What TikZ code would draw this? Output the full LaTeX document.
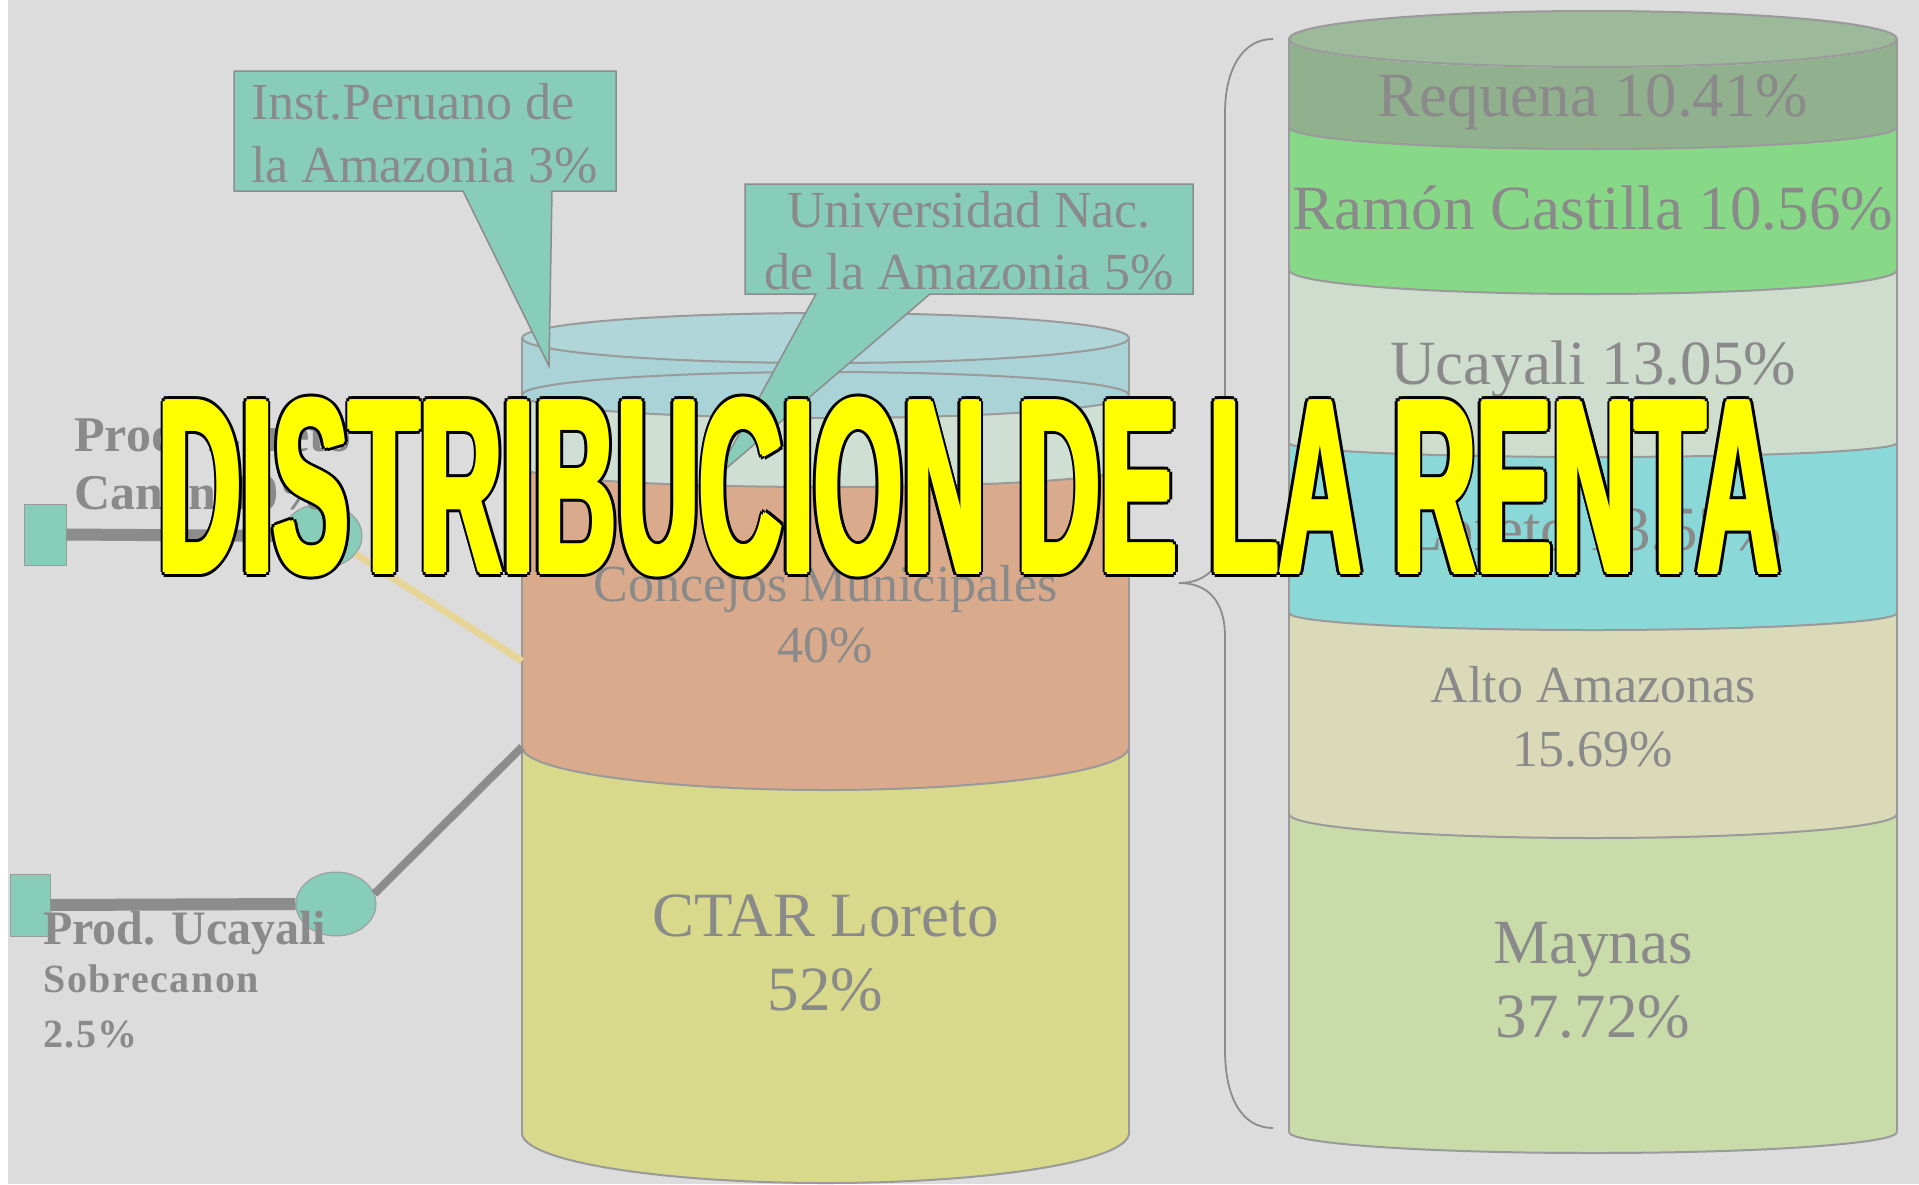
\documentclass[tikz,border=0pt]{standalone}
\usepackage{fontspec}
\setmainfont{Liberation Serif}
\newfontfamily\titlefont{Liberation Sans}
\usetikzlibrary{calc,shapes.geometric}
\definecolor{bgray}{HTML}{DCDCDC}
\definecolor{cyline}{HTML}{9A9A9A}
\definecolor{txtg}{HTML}{8A8A8A}
\definecolor{calteal}{HTML}{88CDB9}
\definecolor{mblue}{HTML}{A9D3D6}
\definecolor{mlight}{HTML}{CFDFD3}
\definecolor{morange}{HTML}{D9AA8C}
\definecolor{myellow}{HTML}{D8D98A}
\definecolor{rtop}{HTML}{9CB99A}
\definecolor{rreq}{HTML}{91B08E}
\definecolor{rram}{HTML}{87D887}
\definecolor{ruca}{HTML}{CEDDCE}
\definecolor{rlor}{HTML}{8AD8D8}
\definecolor{ralt}{HTML}{DBDAB8}
\definecolor{rmay}{HTML}{C9DBA8}
\definecolor{linegray}{HTML}{8C8C8C}
\definecolor{ylink}{HTML}{E6D597}
\definecolor{ttl}{HTML}{FFFF00}
% band of a cylinder: color, xL, rx, ytop, sagtop, ybot, sagbot
\newcommand\cylband[7]{\fill[#1] (#2,#4) arc[start angle=180,end angle=360,x radius=#3pt,y radius=#5pt] -- ++(0,{#6-#4}) arc[start angle=360,end angle=180,x radius=#3pt,y radius=#7pt] -- cycle;}
% front arc: xL, rx, y, sag
\newcommand\frontarc[4]{\draw[cyledge] (#1,#3) arc[start angle=180,end angle=360,x radius=#2pt,y radius=#4pt];}
\newcommand\titletxt{\resizebox{1620pt}{173pt}{\titlefont\bfseries DISTRIBUCION DE LA RENTA}}
\begin{document}
\begin{tikzpicture}[x=1pt,y=-1pt,
  cyledge/.style={draw=cyline,line width=2pt},
  lbl/.style={anchor=base,inner sep=0pt,text=txtg},
  big/.style={lbl,font=\fontsize{63}{70}\selectfont},
  mid/.style={lbl,font=\fontsize{52}{60}\selectfont},
  lefttxt/.style={anchor=base west,inner sep=0pt,text=txtg,font=\bfseries\fontsize{48}{56}\selectfont},
  smalltxt/.style={lefttxt,font=\bfseries\fontsize{40}{48}\selectfont\addfontfeature{LetterSpace=4}},
  callout/.style={fill=calteal,draw=linegray,line width=1.5pt},
  srcbox/.style={rectangle,fill=calteal,draw=cyline,line width=1pt,inner sep=0pt},
  srcell/.style={ellipse,fill=calteal,draw=cyline,line width=1pt,minimum width=80pt,minimum height=64pt,inner sep=0pt},
  feed/.style={draw=linegray,line width=12pt},
  ttlnode/.style={anchor=base west,inner sep=0pt,outer sep=0pt}]
\useasboundingbox (0,0) rectangle (1919,1184);
\fill[white] (0,0) rectangle (1919,1184);
\fill[bgray] (8,0) rectangle (1919,1184);

% ---------- middle cylinder ----------
\cylband{mblue}{522}{303.5}{338}{25}{395}{23}
\cylband{mlight}{522}{303.5}{395}{23}{467}{20}
\cylband{morange}{522}{303.5}{467}{20}{747}{43}
\cylband{myellow}{522}{303.5}{747}{43}{1133}{50}
\fill[mblue!92!white] (825.5,338) ellipse[x radius=303.5pt,y radius=25pt];
\draw[cyledge] (825.5,338) ellipse[x radius=303.5pt,y radius=25pt];
\draw[cyledge] (825.5,395) ellipse[x radius=303.5pt,y radius=23pt];
\frontarc{522}{303.5}{467}{20}
\frontarc{522}{303.5}{747}{43}
\frontarc{522}{303.5}{1133}{50}
\draw[cyledge] (522,338) -- (522,1133);
\draw[cyledge] (1129,338) -- (1129,1133);

% ---------- right cylinder ----------
\cylband{rreq}{1289}{304}{40}{28}{127}{22}
\cylband{rram}{1289}{304}{127}{22}{270}{24}
\cylband{ruca}{1289}{304}{270}{24}{443}{14}
\cylband{rlor}{1289}{304}{443}{14}{613}{17}
\cylband{ralt}{1289}{304}{613}{17}{814}{24}
\cylband{rmay}{1289}{304}{814}{24}{1132}{21}
\fill[rtop] (1593,39) ellipse[x radius=304pt,y radius=28pt];
\draw[cyledge] (1593,39) ellipse[x radius=304pt,y radius=28pt];
\frontarc{1289}{304}{127}{22}
\frontarc{1289}{304}{270}{24}
\frontarc{1289}{304}{443}{14}
\frontarc{1289}{304}{613}{17}
\frontarc{1289}{304}{814}{24}
\frontarc{1289}{304}{1132}{21}
\draw[cyledge] (1289,39) -- (1289,1132);
\draw[cyledge] (1897,39) -- (1897,1132);

% ---------- brace ----------
\draw[linegray,line width=1.8pt] (1273,39) .. controls (1242,39) and (1225,70) .. (1225,113) -- (1225,529)
  .. controls (1225,565) and (1207,583) .. (1179,583) .. controls (1207,583) and (1225,600) .. (1225,637)
  -- (1225,1050) .. controls (1225,1098) and (1242,1128) .. (1273,1128);

% ---------- callouts ----------
\draw[callout] (234,71) -- (616,71) -- (616,191) -- (552,191) -- (549,366) -- (463,191) -- (234,191) -- cycle;
\draw[callout] (745,184) -- (1193,184) -- (1193,294) -- (930,294) -- (715,478) -- (816,294) -- (745,294) -- cycle;
\node[mid,anchor=base west] (c1a) at (251,119) {Inst.Peruano de};
\node[mid,anchor=base west] (c1b) at (251,182) {la Amazonia 3\%};
\node[mid] (c2a) at (969,227) {Universidad Nac.};
\node[mid] (c2b) at (969,289) {de la Amazonia 5\%};

% ---------- left sources ----------
\coordinate (in1) at (522,661);
\coordinate (in2) at (522,747);
\node[srcbox,minimum width=42pt,minimum height=61pt] (s1) at (45,534.5) {};
\node[srcell] (e1) at (322,536) {};
\node[srcbox,minimum width=40pt,minimum height=62pt] (s2) at (30,905) {};
\node[srcell] (e2) at (336,904) {};
\draw[feed] (s1.east) -- (e1.west);
\draw[feed] (s2.east) -- (e2.west);
\draw[ylink,line width=7pt] (e1.-28) -- (in1);
\draw[linegray,line width=8pt] (e2.15) -- (in2);

\node[lefttxt,font=\bfseries\fontsize{50}{58}\selectfont] (p1a) at (74,451) {Prod. Loreto};
\node[lefttxt,font=\bfseries\fontsize{50}{58}\selectfont] (p1b) at (74,509) {Canon 10\%};
\node[lefttxt] (p2a) at (43,944) {Prod. Ucayali};
\node[smalltxt] (p2b) at (43,992) {Sobrecanon};
\node[smalltxt] (p2c) at (43,1047) {2.5\%};

% ---------- labels in cylinders ----------
\node[mid] (conc) at (825.5,601) {Concejos Municipales};
\node[mid] (conc2) at (825.5,662) {40\%};
\node[big] (ctar) at (825.5,936) {CTAR Loreto};
\node[big] (ctar2) at (825.5,1010) {52\%};

\node[big] (req) at (1593,116) {Requena 10.41\%};
\node[big] (ram) at (1593,229) {Ramón Castilla 10.56\%};
\node[big] (uca) at (1593,384) {Ucayali 13.05\%};
\node[big] (lor) at (1593,550) {Loreto 13.57\%};
\node[mid] (alt) at (1593,702) {Alto Amazonas};
\node[mid] (alt2) at (1593,766) {15.69\%};
\node[big] (may) at (1593,963) {Maynas};
\node[big] (may2) at (1593,1037) {37.72\%};

% ---------- title (black outline, thickened yellow letters) ----------
\coordinate (tpos) at (158.5,572.5);
\foreach \a [count=\i] in {0,36,...,324}{\node[ttlnode,text=black] (tb\i) at ($(tpos)+(\a:5.5pt)$) {\titletxt};}
\foreach \a [count=\i] in {0,60,...,300}{\node[ttlnode,text=ttl] (ty\i) at ($(tpos)+(\a:2.8pt)$) {\titletxt};}
\node[ttlnode,text=ttl] (title) at (tpos) {\titletxt};
\end{tikzpicture}
\end{document}
